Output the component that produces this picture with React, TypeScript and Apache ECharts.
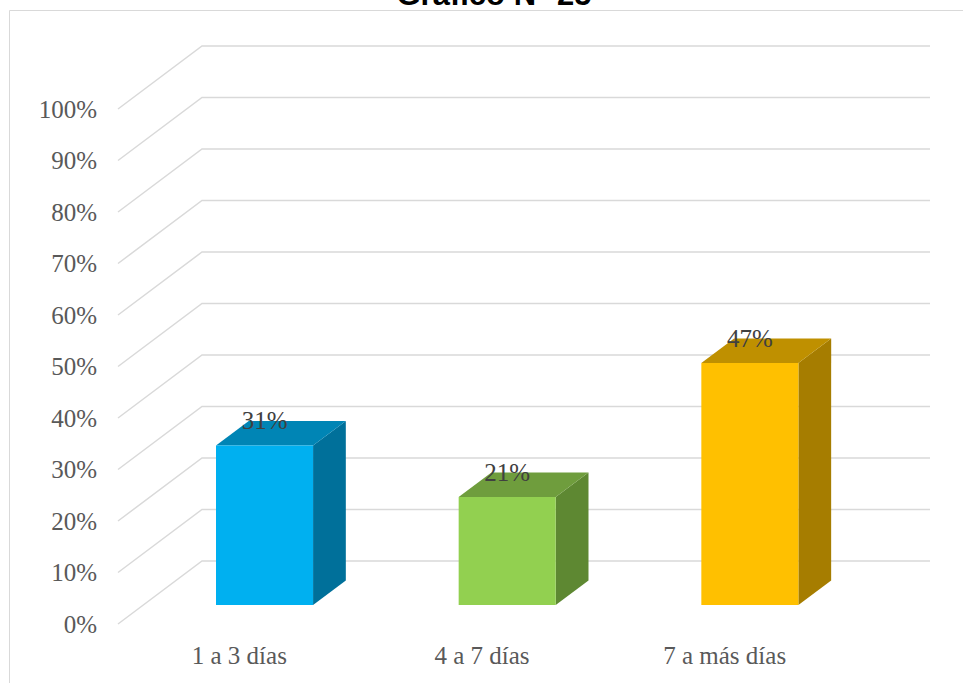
import React, { useEffect, useRef } from "react";
import * as echarts from "echarts";

const categories = ["1 a 3 días", "4 a 7 días", "7 a más días"];
const values = [31, 21, 47];
const yTicks = [0, 10, 20, 30, 40, 50, 60, 70, 80, 90, 100];
const frontColors = ["#00B0F0", "#92D050", "#FFC000"];
const topColors = ["#0085B5", "#6F9D3D", "#BF9000"];
const sideColors = ["#00709A", "#5E8832", "#A67D00"];
const titleText = "Gráfico N° 25";

// 3D geometry (pixels): full depth offset of the floor, bar front position and bar depth
const DEPTH_X = 84;
const DEPTH_Y = -63;
const BAR_FRONT = 0.3;
const BAR_DEPTH = 0.39;

export default function App() {
  const ref = useRef<HTMLDivElement>(null);
  useEffect(() => {
    if (!ref.current) return;
    const chart = echarts.init(ref.current, null, { renderer: "svg" });
    const serif = '"Liberation Serif", Cambria, serif';
    chart.setOption({
      animation: false,
      grid: { left: 118, top: 109, width: 728, height: 515 },
      xAxis: {
        type: "category",
        data: categories,
        axisLine: { show: false },
        axisTick: { show: false },
        axisLabel: { color: "#595959", fontFamily: serif, fontSize: 25, margin: 19 },
        splitLine: { show: false },
      },
      yAxis: {
        type: "value",
        min: 0,
        max: 100,
        interval: 10,
        axisLine: { show: false },
        axisTick: { show: false },
        splitLine: { show: false },
        axisLabel: {
          color: "#595959",
          fontFamily: serif,
          fontSize: 25,
          margin: 21,
          formatter: "{value}%",
        },
      },
      graphic: [
        {
          type: "rect",
          shape: { x: 9.5, y: 10.5, width: 1000, height: 700 },
          style: { fill: "none", stroke: "#D9D9D9", lineWidth: 1 },
          silent: true,
        },
        {
          type: "text",
          x: 494,
          y: -6,
          style: {
            text: titleText,
            fill: "#000000",
            fontFamily: '"Liberation Sans", Arial, sans-serif',
            fontWeight: "bold",
            fontSize: 31,
            textAlign: "center",
            textVerticalAlign: "middle",
            align: "center",
            verticalAlign: "middle",
          },
          silent: true,
        },
      ],
      series: [
        {
          type: "custom",
          name: "walls",
          z: 1,
          silent: true,
          encode: { x: 0, y: 1 },
          data: yTicks.map((t) => [0, t]),
          renderItem: (params: any, api: any) => {
            const cs = params.coordSys;
            const y = api.coord([0, api.value(1)])[1];
            const x0 = cs.x;
            return {
              type: "polyline",
              shape: {
                points: [
                  [x0, y],
                  [x0 + DEPTH_X, y + DEPTH_Y],
                  [x0 + cs.width + DEPTH_X, y + DEPTH_Y],
                ],
              },
              style: { stroke: "#D9D9D9", lineWidth: 1.5, fill: "none" },
            };
          },
        },
        {
          type: "custom",
          name: "bars",
          z: 5,
          encode: { x: 0, y: 1 },
          data: values.map((v, i) => [i, v]),
          renderItem: (params: any, api: any) => {
            const idx = api.value(0);
            const val = api.value(1);
            const base = api.coord([idx, 0]);
            const top = api.coord([idx, val]);
            const w = api.size([1, 0])[0] * 0.4;
            const fx = DEPTH_X * BAR_FRONT;
            const fy = DEPTH_Y * BAR_FRONT;
            const bx = DEPTH_X * BAR_DEPTH;
            const by = DEPTH_Y * BAR_DEPTH;
            const cx = base[0] + fx;
            const y0 = base[1] + fy;
            const yt = top[1] + fy;
            const x1 = cx - w / 2;
            const x2 = cx + w / 2;
            return {
              type: "group",
              children: [
                {
                  type: "polygon",
                  shape: {
                    points: [
                      [x2, yt],
                      [x2 + bx, yt + by],
                      [x2 + bx, y0 + by],
                      [x2, y0],
                    ],
                  },
                  style: { fill: sideColors[idx] },
                },
                {
                  type: "polygon",
                  shape: {
                    points: [
                      [x1, yt],
                      [x2, yt],
                      [x2 + bx, yt + by],
                      [x1 + bx, yt + by],
                    ],
                  },
                  style: { fill: topColors[idx] },
                },
                {
                  type: "rect",
                  shape: { x: x1, y: yt, width: w, height: y0 - yt },
                  style: { fill: frontColors[idx] },
                },
                {
                  type: "text",
                  x: cx,
                  y: yt + by,
                  style: {
                    text: val + "%",
                    fill: "#404040",
                    fontFamily: serif,
                    fontSize: 25,
                    align: "center",
                    verticalAlign: "middle",
                  },
                },
              ],
            };
          },
        },
      ],
    });
    return () => chart.dispose();
  }, []);
  return (
    <div
      ref={ref}
      style={{ position: "absolute", left: 0, top: 0, width: 963, height: 683 }}
    />
  );
}
